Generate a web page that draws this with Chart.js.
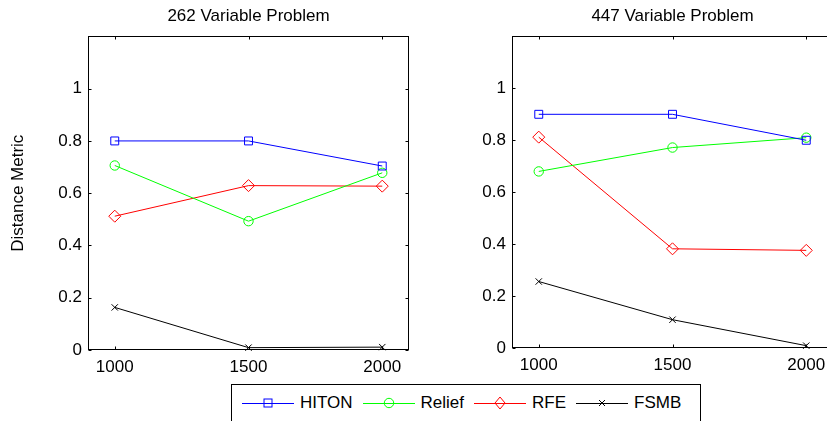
<!DOCTYPE html>
<html>
<head>
<meta charset="utf-8">
<script src="https://cdn.jsdelivr.net/npm/chart.js@4/dist/chart.umd.min.js"></script>
<style>
  html, body { margin: 0; padding: 0; background: #fff; }
  body { width: 827px; height: 421px; overflow: hidden; position: relative; font-family: "Liberation Sans", Arial, sans-serif; }
  canvas { position: absolute; top: 0; }
  #left { left: 0; }
  #right { left: 424px; }
  #legend {
    position: absolute; left: 231px; top: 384px; width: 458px; height: 36px;
    border: 1px solid #000; background: #fff; box-sizing: content-box;
    display: flex; align-items: center; padding-left: 10px; padding-bottom: 4px;
    font-size: 17px; color: #000;
  }
  #legend .item { display: flex; align-items: center; margin-right: 10px; }
  #legend svg { margin-right: 6px; }
</style>
</head>
<body>
<canvas id="left" width="416" height="380"></canvas>
<canvas id="right" width="420" height="378"></canvas>
<div id="legend"></div>
<script>
// data
var xValues = [1000, 1500, 2000];
var xTicks = [1000, 1500, 2000];
var yTicks = [0, 0.2, 0.4, 0.6, 0.8, 1];
var seriesNames = ['HITON', 'Relief', 'RFE', 'FSMB'];

var hiton262 = [0.80, 0.80, 0.704];
var relief262 = [0.706, 0.493, 0.678];
var rfe262 = [0.512, 0.629, 0.627];
var fsmb262 = [0.163, 0.009, 0.011];

var hiton447 = [0.90, 0.90, 0.80];
var relief447 = [0.68, 0.772, 0.81];
var rfe447 = [0.812, 0.382, 0.376];
var fsmb447 = [0.256, 0.109, 0.009];

var colors = ['#0000ff', '#00ff00', '#ff0000', '#000000'];
var markers = ['rect', 'circle', 'rectRot', 'crossRot'];
var radii = [5.6, 4.7, 6, 4.5];

var FONT = "'Liberation Sans', Arial, sans-serif";

function points(vals) {
    var out = [];
    for (var i = 0; i < xValues.length; i++) out.push({x: xValues[i], y: vals[i]});
    return out;
}

function makeDatasets(list) {
    return list.map(function (vals, i) {
        return {
            label: seriesNames[i],
            data: points(vals),
            borderColor: colors[i],
            borderWidth: 1,
            pointStyle: markers[i],
            pointRadius: radii[i],
            pointBorderColor: colors[i],
            pointBackgroundColor: 'rgba(0,0,0,0)',
            pointBorderWidth: 1,
            fill: false,
            tension: 0,
            clip: false
        };
    });
}

// box round the plot plus inward ticks on all sides, like the original
var framePlugin = {
    id: 'frame',
    afterLayout: function (chart) {
        // centre the title over the plot, not over the whole canvas
        var t = chart.titleBlock;
        if (t) {
            t.left = chart.chartArea.left;
            t.right = chart.chartArea.right;
            t.width = t.right - t.left;
        }
    },
    afterDraw: function (chart) {
        var ctx = chart.ctx, a = chart.chartArea;
        var xs = chart.scales.x, ys = chart.scales.y;
        var L = Math.round(a.left) + 0.5, R = Math.round(a.right) - 0.5;
        var T = Math.round(a.top) + 0.5, B = Math.round(a.bottom) - 0.5;
        ctx.save();
        ctx.strokeStyle = '#000';
        ctx.lineWidth = 1;
        ctx.strokeRect(L, T, R - L, B - T);
        ctx.beginPath();
        xs.ticks.forEach(function (t) {
            var px = Math.round(xs.getPixelForValue(t.value)) + 0.5;
            ctx.moveTo(px, B); ctx.lineTo(px, B - 3);
            ctx.moveTo(px, T); ctx.lineTo(px, T + 3);
        });
        ys.ticks.forEach(function (t) {
            var py = Math.round(ys.getPixelForValue(t.value)) + 0.5;
            ctx.moveTo(L, py); ctx.lineTo(L + 3, py);
            ctx.moveTo(R, py); ctx.lineTo(R - 3, py);
        });
        ctx.stroke();
        ctx.restore();
    }
};

function makeChart(id, title, list, showYTitle, padRight) {
    var ctx = document.getElementById(id).getContext('2d');
    return new Chart(ctx, {
        type: 'line',
        data: { datasets: makeDatasets(list) },
        plugins: [framePlugin],
        options: {
            responsive: false,
            animation: false,
            layout: { padding: { left: 0, right: padRight, top: 0, bottom: 0 } },
            plugins: {
                legend: { display: false },
                tooltip: { enabled: false },
                title: {
                    display: true,
                    text: title,
                    color: '#000',
                    font: { family: FONT, size: 17, weight: 'normal' },
                    padding: { top: 6, bottom: 10 }
                }
            },
            scales: {
                x: {
                    type: 'linear',
                    min: 900, max: 2100,
                    afterBuildTicks: function (s) { s.ticks = xTicks.map(function (v) { return {value: v}; }); },
                    afterFit: function (s) { s.height = 30; },
                    grid: { display: false, drawTicks: false },
                    border: { display: false },
                    ticks: {
                        color: '#000', padding: 7, maxRotation: 0,
                        font: { family: FONT, size: 17 },
                        callback: function (v) { return String(v); }
                    }
                },
                y: {
                    type: 'linear',
                    min: 0, max: 1.2,
                    afterBuildTicks: function (s) { s.ticks = yTicks.map(function (v) { return {value: v}; }); },
                    afterFit: function (s) { s.width = 88; },
                    grid: { display: false, drawTicks: false },
                    border: { display: false },
                    title: {
                        display: showYTitle,
                        text: 'Distance Metric',
                        color: '#000',
                        font: { family: FONT, size: 17 },
                        padding: { top: 8, bottom: 0 }
                    },
                    ticks: {
                        color: '#000', padding: 6,
                        font: { family: FONT, size: 17 },
                        callback: function (v) { return String(Number(v.toFixed(1))); }
                    }
                }
            }
        }
    });
}

makeChart('left', '262 Variable Problem', [hiton262, relief262, rfe262, fsmb262], true, 6);
makeChart('right', '447 Variable Problem', [hiton447, relief447, rfe447, fsmb447], false, 11);

// legend below both panels
function markerSvg(i) {
    var c = colors[i];
    var m = '';
    if (i === 0) m = '<rect x="22" y="-4" width="8" height="8" fill="none" stroke="' + c + '"/>';
    if (i === 1) m = '<circle cx="26" cy="0" r="4.7" fill="none" stroke="' + c + '"/>';
    if (i === 2) m = '<path d="M26 -6 L31 0 L26 6 L21 0 Z" fill="none" stroke="' + c + '"/>';
    if (i === 3) m = '<path d="M23 -3 L29 3 M29 -3 L23 3" stroke="' + c + '"/>';
    return '<svg width="52" height="16" viewBox="0 -8 52 16">' +
        '<line x1="0" y1="0.5" x2="52" y2="0.5" stroke="' + c + '" stroke-width="1"/>' + m + '</svg>';
}
var legendEl = document.getElementById('legend');
seriesNames.forEach(function (name, i) {
    var item = document.createElement('div');
    item.className = 'item';
    item.innerHTML = markerSvg(i) + '<span>' + name + '</span>';
    legendEl.appendChild(item);
});
</script>
</body>
</html>
